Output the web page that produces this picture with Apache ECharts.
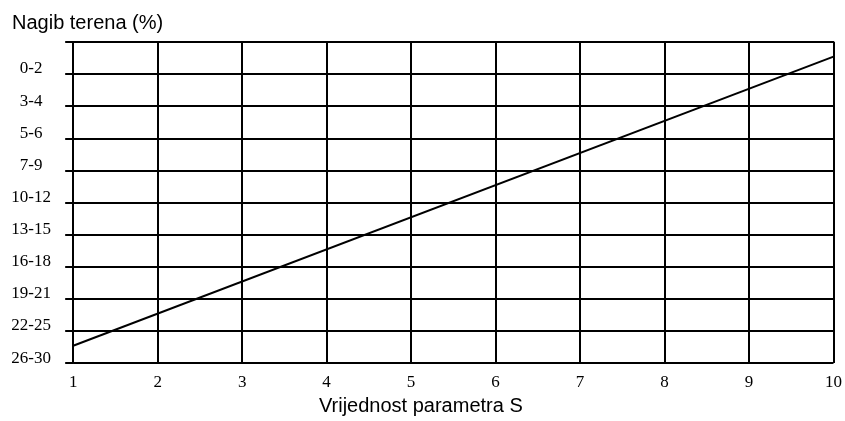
<!DOCTYPE html>
<html>
<head>
<meta charset="utf-8">
<script src="https://cdn.jsdelivr.net/npm/echarts@6/dist/echarts.min.js"></script>
<style>html,body{margin:0;padding:0;background:#fff;overflow:hidden}#c{width:100vw;height:100vh}</style>
</head>
<body>
<div id="c"></div>
<script>
// Y categories (top to bottom), first slot is the blank top edge
var slopeLabels = ['', '0-2', '3-4', '5-6', '7-9', '10-12', '13-15', '16-18', '19-21', '22-25', '26-30'];
// X tick values
var sTicks = [1, 2, 3, 4, 5, 6, 7, 8, 9, 10];
// Line endpoints: parameter S and position on the slope scale (category index, 0 = top)
var lineS = [1, 10];
var lineSlopePos = [9.46, 0.46];

var lineData = lineS.map(function (s, i) { return [s, lineSlopePos[i]]; });

var chart = echarts.init(document.getElementById('c'), null, { renderer: 'canvas' });
chart.setOption({
  animation: false,
  backgroundColor: '#fff',
  grid: { left: '8.66%', right: '0.36%', top: '9.95%', bottom: '12.35%', containLabel: false },
  title: {
    text: 'Nagib terena (%)',
    left: 12, top: 13, padding: 0,
    textStyle: { fontFamily: 'Liberation Sans', fontSize: 20, fontWeight: 'normal', color: '#000' }
  },
  xAxis: {
    type: 'value',
    min: sTicks[0], max: sTicks[sTicks.length - 1], interval: 1,
    name: 'Vrijednost parametra S',
    nameLocation: 'middle', nameGap: 29,
    nameTextStyle: { fontFamily: 'Liberation Sans', fontSize: 20, color: '#000', padding: [0, 65, 0, 0] },
    axisLine: { show: true, lineStyle: { color: '#000', width: 2 } },
    axisTick: { show: true, length: 6, lineStyle: { color: '#000', width: 2 } },
    axisLabel: { fontFamily: 'Liberation Serif', fontSize: 17, color: '#000', margin: 11 },
    splitLine: { show: true, lineStyle: { color: '#000', width: 2 } }
  },
  yAxis: {
    type: 'value',
    inverse: true,
    min: 0, max: slopeLabels.length - 1, interval: 1,
    axisLine: { show: true, lineStyle: { color: '#000', width: 2 } },
    axisTick: { show: true, length: 8, lineStyle: { color: '#000', width: 2 } },
    axisLabel: {
      fontFamily: 'Liberation Serif', fontSize: 17, color: '#000',
      align: 'center', margin: 42,
      verticalAlign: 'bottom', lineHeight: 10,
      formatter: function (v) { return slopeLabels[Math.round(v)] || ''; }
    },
    splitLine: { show: true, lineStyle: { color: '#000', width: 2 } }
  },
  series: [{
    type: 'line',
    data: lineData,
    symbol: 'none',
    lineStyle: { color: '#000', width: 2 },
    silent: true
  }]
});
</script>
</body>
</html>
